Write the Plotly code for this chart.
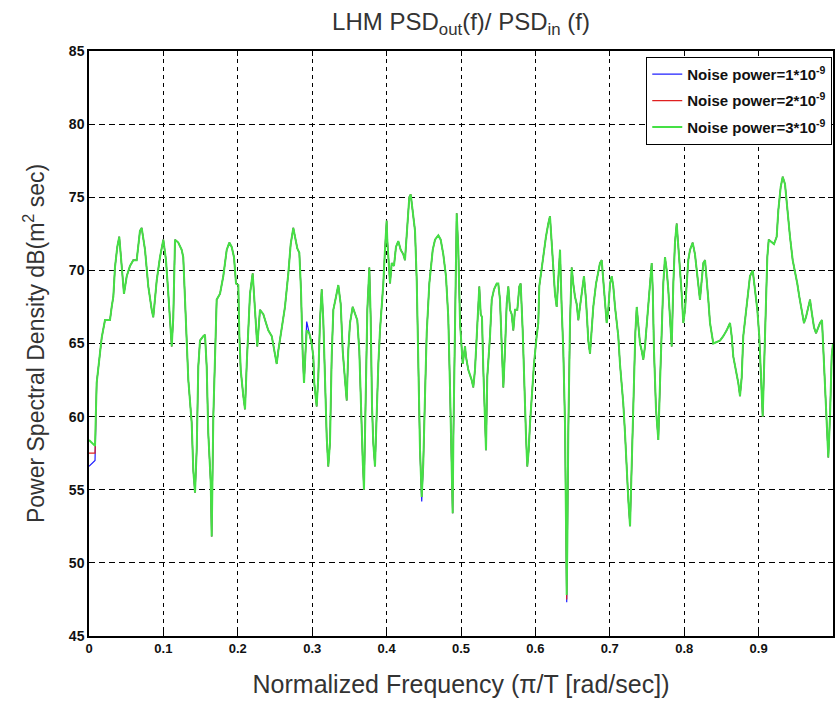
import plotly.graph_objects as go

# Normalized frequency (pi/T) and PSD ratio in dB for the highest noise power run
freq = [
    0.0000, 0.0081, 0.0103, 0.0171, 0.0215, 0.0282, 0.0305, 0.0327, 0.0349, 0.0380,
    0.0407, 0.0426, 0.0453, 0.0470, 0.0507, 0.0551, 0.0595, 0.0641, 0.0685, 0.0708,
    0.0753, 0.0797, 0.0843, 0.0864, 0.0910, 0.0954, 0.0999, 0.1035, 0.1066, 0.1089,
    0.1112, 0.1133, 0.1156, 0.1200, 0.1246, 0.1267, 0.1290, 0.1313, 0.1335, 0.1380,
    0.1402, 0.1425, 0.1448, 0.1469, 0.1492, 0.1536, 0.1559, 0.1582, 0.1603, 0.1636,
    0.1649, 0.1671, 0.1716, 0.1761, 0.1805, 0.1851, 0.1886, 0.1918, 0.1949, 0.1976,
    0.2007, 0.2020, 0.2039, 0.2074, 0.2097, 0.2120, 0.2141, 0.2164, 0.2200, 0.2218,
    0.2245, 0.2262, 0.2298, 0.2343, 0.2379, 0.2410, 0.2456, 0.2500, 0.2523, 0.2544,
    0.2590, 0.2634, 0.2679, 0.2711, 0.2746, 0.2773, 0.2800, 0.2827, 0.2849, 0.2872,
    0.2890, 0.2907, 0.2926, 0.2961, 0.2993, 0.3015, 0.3028, 0.3060, 0.3082, 0.3105,
    0.3128, 0.3149, 0.3172, 0.3195, 0.3216, 0.3239, 0.3262, 0.3284, 0.3320, 0.3351,
    0.3383, 0.3410, 0.3441, 0.3464, 0.3485, 0.3508, 0.3544, 0.3575, 0.3606, 0.3633,
    0.3652, 0.3679, 0.3696, 0.3723, 0.3741, 0.3768, 0.3786, 0.3804, 0.3821, 0.3844,
    0.3867, 0.3889, 0.3911, 0.3934, 0.3956, 0.3978, 0.4001, 0.4009, 0.4023, 0.4046,
    0.4069, 0.4099, 0.4126, 0.4157, 0.4190, 0.4224, 0.4247, 0.4270, 0.4305, 0.4324,
    0.4351, 0.4382, 0.4405, 0.4426, 0.4449, 0.4472, 0.4493, 0.4516, 0.4539, 0.4574,
    0.4620, 0.4651, 0.4695, 0.4727, 0.4762, 0.4798, 0.4829, 0.4852, 0.4875, 0.4888,
    0.4897, 0.4919, 0.4942, 0.4964, 0.4987, 0.5023, 0.5054, 0.5067, 0.5098, 0.5144,
    0.5165, 0.5188, 0.5219, 0.5246, 0.5265, 0.5282, 0.5300, 0.5323, 0.5336, 0.5353,
    0.5390, 0.5413, 0.5444, 0.5480, 0.5501, 0.5524, 0.5547, 0.5569, 0.5591, 0.5614,
    0.5636, 0.5659, 0.5681, 0.5703, 0.5726, 0.5757, 0.5784, 0.5802, 0.5829, 0.5847,
    0.5874, 0.5891, 0.5910, 0.5927, 0.5950, 0.5981, 0.6017, 0.6039, 0.6052, 0.6085,
    0.6116, 0.6142, 0.6173, 0.6196, 0.6219, 0.6241, 0.6263, 0.6286, 0.6308, 0.6331,
    0.6353, 0.6375, 0.6398, 0.6411, 0.6421, 0.6429, 0.6442, 0.6465, 0.6488, 0.6509,
    0.6532, 0.6555, 0.6577, 0.6599, 0.6622, 0.6653, 0.6680, 0.6711, 0.6734, 0.6757,
    0.6778, 0.6815, 0.6845, 0.6868, 0.6891, 0.6913, 0.6935, 0.6958, 0.6980, 0.7003,
    0.7026, 0.7047, 0.7070, 0.7093, 0.7114, 0.7137, 0.7160, 0.7181, 0.7204, 0.7227,
    0.7249, 0.7272, 0.7285, 0.7308, 0.7325, 0.7343, 0.7362, 0.7383, 0.7406, 0.7429,
    0.7450, 0.7473, 0.7496, 0.7518, 0.7540, 0.7563, 0.7577, 0.7594, 0.7621, 0.7652,
    0.7675, 0.7698, 0.7719, 0.7742, 0.7765, 0.7786, 0.7809, 0.7832, 0.7854, 0.7876,
    0.7899, 0.7921, 0.7944, 0.7966, 0.7988, 0.8011, 0.8034, 0.8055, 0.8078, 0.8114,
    0.8145, 0.8168, 0.8190, 0.8212, 0.8235, 0.8257, 0.8280, 0.8302, 0.8324, 0.8347,
    0.8370, 0.8391, 0.8437, 0.8481, 0.8525, 0.8571, 0.8616, 0.8638, 0.8660, 0.8696,
    0.8727, 0.8750, 0.8773, 0.8794, 0.8831, 0.8861, 0.8884, 0.8921, 0.8952, 0.8983,
    0.9009, 0.9032, 0.9055, 0.9073, 0.9099, 0.9117, 0.9136, 0.9176, 0.9207, 0.9243,
    0.9265, 0.9297, 0.9324, 0.9355, 0.9386, 0.9422, 0.9458, 0.9489, 0.9520, 0.9547,
    0.9579, 0.9610, 0.9637, 0.9664, 0.9691, 0.9718, 0.9745, 0.9772, 0.9798, 0.9825,
    0.9852, 0.9869, 0.9892, 0.9915, 0.9937, 0.9960, 0.9982, 1.0000,
]

psd_p3 = [
    58.4, 58.0, 62.3, 65.4, 66.6, 66.6, 67.5, 68.2, 70.2, 71.6,
    72.3, 71.0, 69.3, 68.4, 69.6, 70.3, 70.7, 70.7, 72.7, 72.9,
    71.4, 68.9, 67.3, 66.8, 69.3, 70.9, 72.1, 70.7, 68.4, 66.6,
    64.8, 66.8, 72.1, 71.9, 71.4, 70.9, 68.4, 65.5, 62.5, 59.6,
    56.3, 54.8, 57.8, 63.4, 65.2, 65.5, 65.6, 63.4, 58.9, 55.5,
    51.8, 60.0, 68.0, 68.4, 69.6, 71.4, 71.9, 71.6, 70.9, 69.1,
    69.0, 65.7, 63.2, 61.4, 60.5, 63.6, 66.1, 68.4, 69.8, 68.4,
    66.1, 64.8, 67.3, 67.0, 66.4, 65.9, 65.5, 64.1, 63.6, 64.5,
    66.1, 67.5, 69.8, 71.8, 72.9, 72.2, 71.5, 71.2, 68.7, 64.3,
    62.3, 64.1, 65.9, 65.7, 65.0, 64.1, 62.3, 60.7, 62.7, 66.6,
    68.7, 66.6, 61.5, 58.6, 56.6, 58.2, 64.1, 67.3, 68.2, 69.0,
    67.7, 64.5, 62.5, 61.1, 64.5, 66.4, 67.5, 67.0, 66.6, 64.5,
    60.7, 57.0, 55.0, 62.7, 67.3, 70.2, 66.8, 60.7, 58.2, 56.6,
    60.5, 63.6, 65.9, 67.5, 69.1, 71.4, 73.4, 72.1, 70.7, 69.1,
    70.5, 70.3, 71.6, 72.0, 71.4, 71.1, 70.7, 72.3, 75.0, 75.2,
    73.9, 72.7, 69.3, 63.4, 57.7, 54.5, 56.8, 61.4, 65.7, 69.1,
    71.4, 72.1, 72.4, 72.1, 71.1, 69.6, 66.8, 62.0, 56.3, 53.4,
    58.4, 66.8, 73.9, 71.4, 66.4, 63.6, 64.8, 64.1, 63.2, 62.5,
    62.0, 63.2, 66.8, 68.9, 67.0, 66.8, 63.2, 59.5, 57.7, 62.7,
    65.5, 68.0, 68.7, 69.1, 69.1, 68.0, 64.5, 62.0, 64.5, 67.7,
    68.9, 67.3, 67.0, 65.9, 67.3, 67.3, 68.9, 69.1, 65.9, 62.3,
    58.6, 56.6, 57.7, 59.5, 61.4, 63.6, 65.5, 66.4, 68.9, 70.2,
    71.1, 72.3, 73.2, 73.7, 71.9, 70.0, 68.4, 67.5, 69.1, 71.4,
    67.5, 64.5, 59.5, 53.2, 47.8, 51.3, 58.9, 66.4, 70.2, 69.1,
    68.2, 67.7, 66.6, 67.5, 68.4, 69.6, 68.0, 65.2, 64.3, 65.9,
    67.5, 69.1, 69.8, 70.5, 70.7, 69.3, 67.5, 66.4, 67.3, 69.1,
    69.6, 68.9, 67.5, 66.4, 65.5, 63.6, 62.3, 60.9, 58.9, 56.3,
    54.3, 52.5, 55.0, 60.5, 64.1, 65.7, 67.5, 66.1, 65.0, 64.5,
    63.9, 64.8, 66.4, 67.7, 69.3, 70.5, 68.7, 64.5, 60.5, 58.4,
    62.3, 65.9, 69.1, 70.9, 70.0, 68.7, 66.4, 64.8, 69.1, 71.9,
    73.2, 71.9, 70.0, 68.4, 66.4, 67.3, 69.1, 70.7, 71.4, 71.9,
    71.1, 70.0, 69.1, 68.0, 69.3, 70.5, 70.7, 69.6, 68.0, 66.4,
    65.5, 65.0, 65.1, 65.2, 65.5, 65.9, 66.4, 65.5, 64.1, 63.2,
    62.3, 61.4, 62.7, 65.5, 67.3, 68.7, 69.6, 70.0, 68.7, 67.3,
    65.5, 62.3, 60.0, 63.2, 68.0, 70.9, 72.1, 71.9, 71.8, 72.3,
    74.1, 75.7, 76.4, 75.9, 74.1, 72.3, 70.7, 70.0, 69.1, 68.2,
    67.3, 66.4, 66.8, 67.5, 68.0, 67.0, 66.1, 65.7, 66.1, 66.4,
    66.6, 64.8, 62.3, 58.9, 57.2, 60.0, 64.1, 65.0,
]

# Lower noise-power runs differ from the 3e-9 run only at a few bins
p1_changes = {0.0000: 56.6, 0.0081: 57.0, 0.2926: 66.5, 0.4472: 54.2, 0.6421: 47.3}
p2_changes = {0.0000: 57.5, 0.0081: 57.5, 0.6421: 47.5}

psd_p1 = [p1_changes.get(f, v) for f, v in zip(freq, psd_p3)]
psd_p2 = [p2_changes.get(f, v) for f, v in zip(freq, psd_p3)]

series_names = [
    "Noise power=1*10<sup>-9</sup>",
    "Noise power=2*10<sup>-9</sup>",
    "Noise power=3*10<sup>-9</sup>",
]
series_colors = ["#2020ff", "#e02020", "#45e045"]
series_widths = [1.2, 1.2, 2.0]

x_ticks = [0, 0.1, 0.2, 0.3, 0.4, 0.5, 0.6, 0.7, 0.8, 0.9, 1]
y_ticks = [45, 50, 55, 60, 65, 70, 75, 80, 85]

fig = go.Figure()
for i, (name, ys, col, w) in enumerate(zip(series_names, [psd_p1, psd_p2, psd_p3],
                                           series_colors, series_widths)):
    fig.add_trace(go.Scatter(
        x=freq, y=ys, mode="lines", name=name, legendgroup=f"g{i}",
        line=dict(color=col, width=w),
    ))

font_family = "Liberation Sans, Arial, sans-serif"

fig.update_layout(
    template="none",
    width=835, height=715,
    margin=dict(l=89, r=2, t=51, b=79, autoexpand=False),
    paper_bgcolor="white", plot_bgcolor="white",
    font=dict(family=font_family, color="#222"),
    title=dict(
        text="LHM PSD<sub>out</sub>(f)/ PSD<sub>in</sub> (f)",
        x=(89 + 833) / 2 / 835, xanchor="center", y=1 - 22 / 715, yanchor="middle",
        font=dict(size=24, color="#333"),
    ),
    showlegend=True,
    legend=dict(
        x=0.999, xanchor="right", y=0.99, yanchor="top",
        bgcolor="white", bordercolor="black", borderwidth=1,
        font=dict(size=15, color="#111", weight="bold"),
        itemwidth=30, tracegroupgap=4,
    ),
)

fig.update_xaxes(
    range=[0, 1], tickvals=x_ticks, ticktext=[str(t) for t in x_ticks],
    showline=True, linecolor="black", linewidth=1.5, mirror="ticks",
    ticks="inside", ticklen=5, tickcolor="black",
    showgrid=True, gridcolor="black", gridwidth=1, griddash="4px,4px",
    zeroline=False, automargin=False,
    tickfont=dict(size=13, color="#111", weight="bold"),
    title=dict(text="Normalized Frequency (π/T [rad/sec])",
               font=dict(size=25, color="#333"), standoff=20),
)
fig.update_yaxes(
    range=[45, 85], tickvals=y_ticks,
    showline=True, linecolor="black", linewidth=1.5, mirror="ticks",
    ticks="inside", ticklen=5, tickcolor="black",
    showgrid=True, gridcolor="black", gridwidth=1, griddash="6px,4px",
    zeroline=False, automargin=False,
    tickfont=dict(size=14, color="#111", weight="bold"),
    title=dict(text="Power Spectral Density dB(m<sup>2</sup> sec)",
               font=dict(size=23, color="#333"), standoff=18),
)

fig.write_html("out.html")
